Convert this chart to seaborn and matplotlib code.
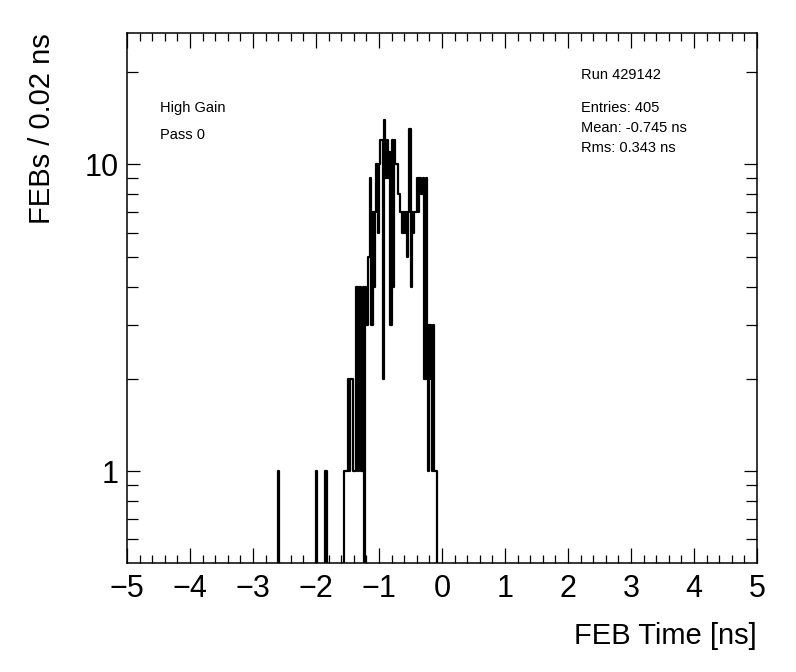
import numpy as np
import pandas as pd
import matplotlib
matplotlib.use("Agg")
import matplotlib.pyplot as plt
import seaborn as sns
from matplotlib.ticker import MultipleLocator, LogLocator, FixedLocator, FixedFormatter, NullFormatter

# FEB time histogram, 0.02 ns bins over [-5, 5]
tail_times = [-2.59, -1.99, -1.85, -1.83]
tail_counts = [1, 1, 1, 1]
core_first = -1.55  # centre of first bin of the main block
core_counts = [1, 1, 1, 2, 1, 2, 2, 1, 1, 1,
               4, 1, 4, 4, 1, 4, 0,
               4, 3, 5, 5, 9, 3, 7, 4, 7, 10, 6, 10,
               12, 12, 2, 14, 9, 12, 9, 11, 3, 12, 4, 12,
               10, 10, 8, 8, 7, 6, 7, 6, 7, 5, 7, 13, 4, 7, 6, 7, 7,
               9, 7, 9, 8, 8, 9, 2, 9, 3, 1, 3, 2, 1, 3, 1, 1]

run_label = "Run 429142"
stats_lines = ["Entries: 405", "Mean: -0.745 ns", "Rms: 0.343 ns"]
info_lines = ["High Gain", "Pass 0"]

core_times = core_first + 0.02 * np.arange(len(core_counts))
df = pd.DataFrame({
    "time": np.concatenate([tail_times, core_times]),
    "n": np.concatenate([tail_counts, core_counts]),
})

sns.set_style("ticks")
plt.rcParams["font.family"] = ["Liberation Sans", "DejaVu Sans"]
plt.rcParams["text.color"] = "black"
plt.rcParams["axes.labelcolor"] = "black"

fig = plt.figure(figsize=(7.96, 6.72), dpi=100)
ax = fig.add_axes([127 / 796, 1 - 563 / 672, 630 / 796, 530 / 672])

sns.histplot(data=df, x="time", weights="n", binwidth=0.02, binrange=(-5, 5),
             element="step", fill=False, color="black", linewidth=1.6, ax=ax)

ax.set_yscale("log")
ax.set_xlim(-5, 5)
ax.set_ylim(0.503, 26.8)

ax.xaxis.set_major_locator(MultipleLocator(1))
ax.xaxis.set_minor_locator(MultipleLocator(0.2))
ax.yaxis.set_major_locator(FixedLocator([1, 10]))
ax.yaxis.set_major_formatter(FixedFormatter(["1", "10"]))
ax.yaxis.set_minor_locator(LogLocator(base=10, subs=np.arange(2, 10)))
ax.yaxis.set_minor_formatter(NullFormatter())

for s in ax.spines.values():
    s.set_linewidth(1.1)
    s.set_color("black")

ax.tick_params(axis="both", which="both", direction="in", top=True, right=True,
               colors="black", width=0.9)
ax.tick_params(axis="x", which="major", length=10.5, labelsize=22, pad=8)
ax.tick_params(axis="x", which="minor", length=5.5)
ax.tick_params(axis="y", which="major", length=9.5, labelsize=22, pad=6)
ax.tick_params(axis="y", which="minor", length=8)

ax.set_xlabel("FEB Time [ns]", fontsize=21, loc="right")
ax.xaxis.set_label_coords(1.0, -0.112)
ax.set_ylabel("FEBs / 0.02 ns", fontsize=21, loc="top")
ax.yaxis.set_label_coords(-0.112, 1.0)

ax.text(0.052, 0.8585, info_lines[0], transform=ax.transAxes, fontsize=10.5, va="center")
ax.text(0.052, 0.8075, info_lines[1], transform=ax.transAxes, fontsize=10.5, va="center")
ax.text(0.7206, 0.9208, run_label, transform=ax.transAxes, fontsize=10.5, va="center")
for k, line in enumerate(stats_lines):
    ax.text(0.7206, 0.8585 - k * 0.0377, line, transform=ax.transAxes,
            fontsize=10.5, va="center")

fig.savefig("out.png", dpi=100, facecolor="white")
